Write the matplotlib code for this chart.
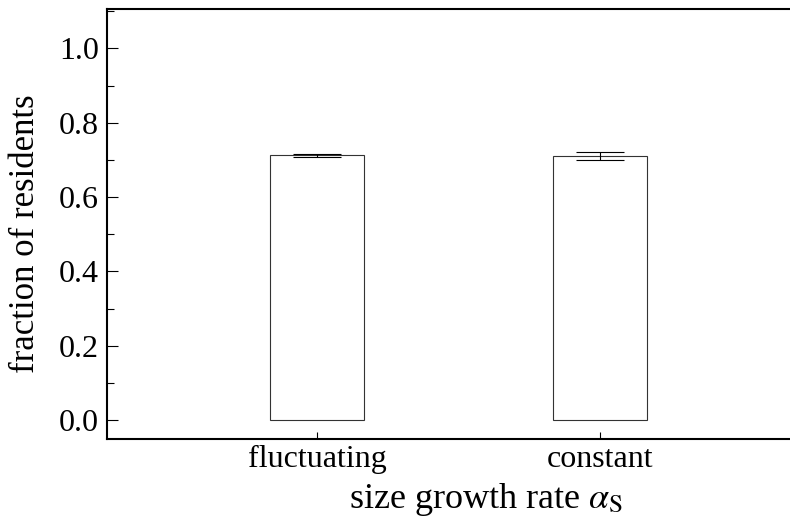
import matplotlib
matplotlib.use("Agg")
import matplotlib.pyplot as plt
from matplotlib.ticker import MultipleLocator, FormatStrFormatter

# mean fraction of residents for the two growth regimes
categories = ["fluctuating", "constant"]
fractions = [0.712, 0.710]
errors = [0.005, 0.011]

plt.rcParams['font.family'] = ['Liberation Serif', 'DejaVu Serif']
plt.rcParams['mathtext.fontset'] = 'stix'

fig = plt.figure(figsize=(7.9, 5.17), dpi=100)
# axes run a little past the right edge of the figure
ax = fig.add_axes([107/790, 78/517, 758/790, 430/517])

x = range(len(categories))
ax.bar(x, fractions, width=1/3, color='white', edgecolor='#333333', linewidth=0.8)
ax.errorbar(x, fractions, yerr=errors, fmt='none', ecolor='black',
            elinewidth=0.8, capsize=17, capthick=0.8)

ax.set_xlim(-0.742, 1.936)
ax.set_ylim(-0.051, 1.106)
ax.set_xticks(list(x))
ax.set_xticklabels(categories)
ax.yaxis.set_major_locator(MultipleLocator(0.2))
ax.yaxis.set_minor_locator(MultipleLocator(0.1))
ax.yaxis.set_major_formatter(FormatStrFormatter('%.1f'))

ax.tick_params(axis='y', which='major', direction='in', length=8, width=0.8,
               labelsize=23, pad=6)
ax.tick_params(axis='y', which='minor', direction='in', length=5, width=0.8)
ax.tick_params(axis='x', direction='in', length=5, width=0.8, labelsize=23, pad=4)

for s in ['left', 'top', 'bottom']:
    ax.spines[s].set_linewidth(1.5)
ax.spines['right'].set_visible(False)

ax.set_ylabel("fraction of residents", fontsize=25)
ax.yaxis.set_label_coords(-0.086, 0.478)
ax.set_xlabel(r"size growth rate $\alpha_\mathrm{S}$", fontsize=26, labelpad=5)

fig.savefig("out.png", dpi=100)
